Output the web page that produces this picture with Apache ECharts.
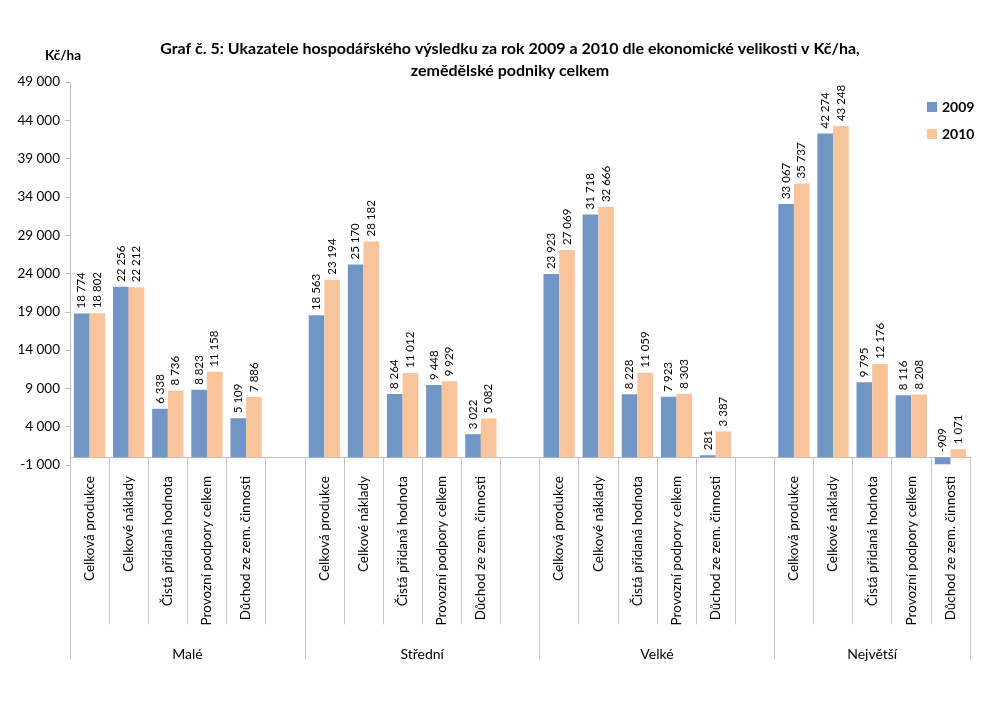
<!DOCTYPE html>
<html>
<head>
<meta charset="utf-8">
<script src="https://cdn.jsdelivr.net/npm/echarts@6/dist/echarts.min.js"></script>
<style>
html,body{margin:0;padding:0;background:#fff;}
#c{width:1000px;height:702px;}
</style>
</head>
<body>
<div id="c"></div>
<script>
const groups = ['Malé', 'Střední', 'Velké', 'Největší'];
const indicators = ['Celková produkce', 'Celkové náklady', 'Čistá přidaná hodnota', 'Provozní podpory celkem', 'Důchod ze zem. činnosti'];
// values per group, in order of indicators
const values2009 = [
  [18774, 22256, 6338, 8823, 5109],
  [18563, 25170, 8264, 9448, 3022],
  [23923, 31718, 8228, 7923, 281],
  [33067, 42274, 9795, 8116, -909]
];
const values2010 = [
  [18802, 22212, 8736, 11158, 7886],
  [23194, 28182, 11012, 9929, 5082],
  [27069, 32666, 11059, 8303, 3387],
  [35737, 43248, 12176, 8208, 1071]
];
const yTicks = {min: -1000, max: 49000, interval: 5000};

// build flat category list with a blank slot after each group except the last
const cats = [], d2009 = [], d2010 = [];
const groupSlots = [];
groups.forEach((g, gi) => {
  const start = cats.length;
  indicators.forEach((ind, ii) => {
    cats.push(ind);
    d2009.push(values2009[gi][ii]);
    d2010.push(values2010[gi][ii]);
  });
  if (gi < groups.length - 1) {
    cats.push('');
    d2009.push(null);
    d2010.push(null);
  }
  groupSlots.push([start, cats.length]);
});
const nSlots = cats.length;
// half-slot axis for group labels and group separators
const halfCats = [];
for (let i = 0; i <= nSlots * 2; i++) halfCats.push('');
const groupLabelIdx = {}, groupTickIdx = {};
groupSlots.forEach((s, gi) => {
  groupLabelIdx[s[0] + s[1]] = groups[gi];
  groupTickIdx[s[0] * 2] = true;
  groupTickIdx[s[1] * 2] = true;
  halfCats[s[0] + s[1]] = groups[gi];
});

const fmt = v => {
  const n = Math.abs(v).toString().replace(/\B(?=(\d{3})+(?!\d))/g, ' ');
  return (v < 0 ? '-' : '') + n;
};

const FONT = 'Lato';
const chart = echarts.init(document.getElementById('c'));
const labelOpt = {
  show: true,
  position: 'top',
  rotate: 90,
  align: 'left',
  verticalAlign: 'middle',
  distance: 5,
  fontFamily: FONT,
  fontSize: 11.5,
  color: '#000',
  formatter: p => (p.value == null ? '' : fmt(p.value))
};
chart.setOption({
  animation: false,
  backgroundColor: '#fff',
  textStyle: {fontFamily: FONT},
  title: [
    {
      text: 'Graf č. 5: Ukazatele hospodářského výsledku za rok 2009 a 2010 dle ekonomické velikosti v Kč/ha,\nzemědělské podniky celkem',
      left: 505, top: 33, textAlign: 'center',
      textStyle: {fontFamily: FONT, fontSize: 16, fontWeight: 'bold', color: '#000', lineHeight: 22}
    },
    {
      text: 'Kč/ha', left: 40, top: 44,
      textStyle: {fontFamily: FONT, fontSize: 13.5, fontWeight: 'bold', color: '#000'}
    }
  ],
  legend: {
    orient: 'vertical', left: 922, top: 95,
    itemWidth: 10, itemHeight: 10, itemGap: 13,
    icon: 'rect',
    textStyle: {fontFamily: FONT, fontSize: 14, fontWeight: 'bold', color: '#000'},
    data: ['2009', '2010']
  },
  grid: {left: 70, right: 30, top: 82, bottom: 237, containLabel: false},
  xAxis: [
    {
      type: 'category', data: cats, boundaryGap: true,
      axisLine: {onZero: true, onZeroAxisIndex: 0, lineStyle: {color: '#bfbfbf', width: 1}},
      axisTick: {show: true, interval: 0, length: 167, lineStyle: {color: '#c6c6c6'}},
      axisLabel: {interval: 0, rotate: 90, margin: 11, fontFamily: FONT, fontSize: 13.5, color: '#000'}
    },
    {
      type: 'category', data: halfCats, boundaryGap: false, position: 'bottom',
      axisLine: {show: false, onZero: true, onZeroAxisIndex: 0},
      axisTick: {show: true, length: 202, interval: (i) => !!groupTickIdx[i], lineStyle: {color: '#c6c6c6'}},
      axisLabel: {interval: (i) => groupLabelIdx[i] !== undefined, margin: 182, fontFamily: FONT, fontSize: 14, color: '#000'}
    }
  ],
  yAxis: {
    type: 'value', min: yTicks.min, max: yTicks.max, interval: yTicks.interval,
    axisLine: {show: true, lineStyle: {color: '#bfbfbf'}},
    axisTick: {show: true, length: 5, lineStyle: {color: '#bfbfbf'}},
    splitLine: {show: false},
    axisLabel: {margin: 10, fontFamily: FONT, fontSize: 13.5, color: '#000', formatter: v => fmt(v)}
  },
  series: [
    {name: '2009', type: 'bar', xAxisIndex: 0, data: d2009, barGap: '0%', barCategoryGap: '20%',
      itemStyle: {color: '#7196C5'}, label: labelOpt},
    {name: '2010', type: 'bar', xAxisIndex: 0, data: d2010, barGap: '0%', barCategoryGap: '20%',
      itemStyle: {color: '#F9C49A'}, label: labelOpt}
  ]
});
</script>
</body>
</html>
